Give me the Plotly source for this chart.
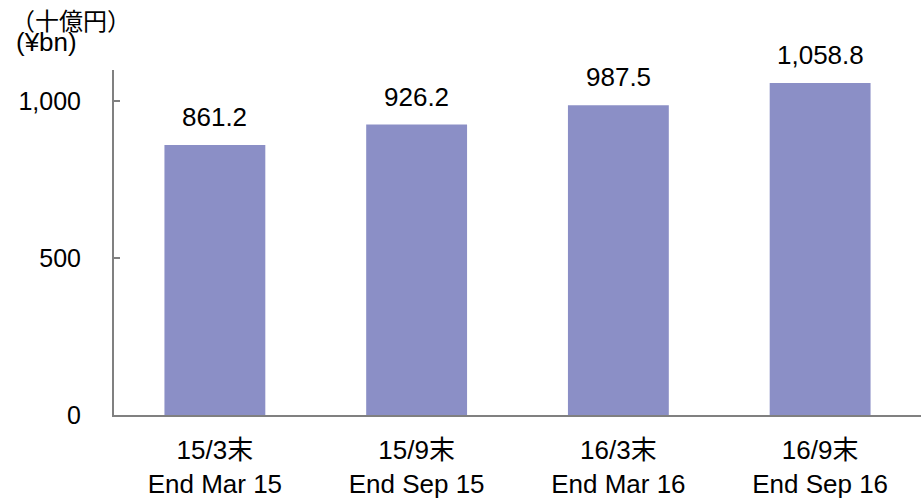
import plotly.graph_objects as go

categories = ["15/3末<br>End Mar 15", "15/9末<br>End Sep 15", "16/3末<br>End Mar 16", "16/9末<br>End Sep 16"]
values = [861.2, 926.2, 987.5, 1058.8]
labels = ["861.2", "926.2", "987.5", "1,058.8"]
ytick_vals = [0, 500, 1000]
ytick_text = ["0", "500", "1,000"]

FONT = "Liberation Sans, Arial, sans-serif"

fig = go.Figure()
fig.add_trace(go.Bar(x=categories, y=values, marker=dict(color="#8B8FC6", line=dict(width=0)),
                     hoverinfo="skip"))

for c, v, t in zip(categories, values, labels):
    fig.add_annotation(x=c, y=v, text=t, showarrow=False, yanchor="bottom", yshift=11,
                       font=dict(size=26, color="#000000", family=FONT))

fig.add_annotation(xref="paper", yref="paper", x=-0.129, y=1.146, xanchor="left", yanchor="middle",
                   text="（十億円）", showarrow=False, borderpad=0,
                   font=dict(size=24, color="#000000", family="Noto Sans CJK JP, " + FONT))
fig.add_annotation(xref="paper", yref="paper", x=-0.123, y=1.082, xanchor="left", yanchor="middle",
                   text="(¥bn)", showarrow=False, borderpad=0,
                   font=dict(size=26, color="#000000", family=FONT))

fig.update_layout(
    width=921, height=499,
    margin=dict(l=114, r=0, t=70, b=82),
    plot_bgcolor="white", paper_bgcolor="white",
    bargap=0.5, showlegend=False,
    font=dict(family=FONT, size=26, color="#000000"),
)
fig.update_xaxes(showline=True, linecolor="#808080", linewidth=2, ticks="", showgrid=False,
                 tickfont=dict(size=26, family="Liberation Sans, Noto Sans CJK JP, sans-serif"),
                 ticklabelstandoff=11)
fig.update_yaxes(range=[0, 1100], tickvals=ytick_vals, ticktext=ytick_text, showline=True,
                 linecolor="#808080", linewidth=2, ticks="inside", ticklen=6, tickwidth=1.5,
                 tickcolor="#808080", showgrid=False, zeroline=False,
                 tickfont=dict(size=25), ticklabelstandoff=26)

fig.write_html("out.html", config={"displayModeBar": False},
               post_script="document.body.style.margin='0';document.body.style.overflow='hidden';")
